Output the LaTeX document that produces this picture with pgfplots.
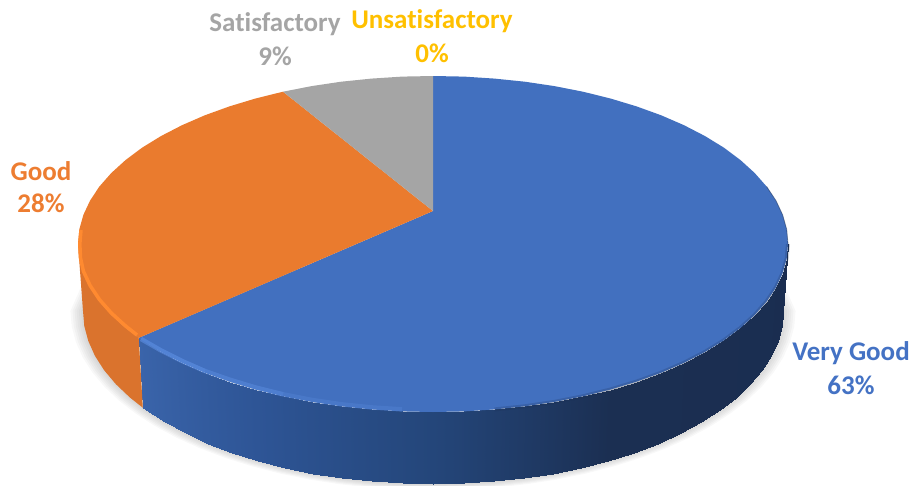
\documentclass[border=0pt]{standalone}
\usepackage{pgfplots}
\usepackage{pgfplotstable}
\usepackage{fontspec}
\setmainfont[Ligatures=NoCommon]{Carlito}
\pgfplotsset{compat=1.18}
\definecolor{cBlue}{HTML}{4270BF}
\definecolor{cBlueT}{HTML}{4472C4}
\definecolor{cOrange}{HTML}{ED7D31}
\definecolor{cOrangeT}{HTML}{EA7B2E}
\definecolor{cGray}{HTML}{A5A5A5}
\definecolor{cGold}{HTML}{FFC000}
% outline of the pie's lower rim, in picture pixels
\pgfplotstableread{
x y
765 270
783 311
781.7 326.1
777.7 341
771.1 355.8
761.9 370.2
750.2 384.1
736.1 397.5
719.7 410.2
701.1 422.2
680.5 433.3
658 443.5
633.8 452.7
608 460.8
580.9 467.8
552.7 473.6
523.6 478.1
493.8 481.4
463.5 483.3
433 484
402.5 483.3
372.2 481.4
342.4 478.1
313.3 473.6
285.1 467.8
258 460.8
232.2 452.7
208 443.5
185.5 433.3
164.9 422.2
146.3 410.2
129.9 397.5
115.8 384.1
104.1 370.2
94.9 355.8
88.3 341
84.3 326.1
83 311
101 270
}\rimtable
% side wall of the blue slice: upper rim then lower rim; c = colour position
\pgfplotstableread{
x y c
788 244 0
786.7 258.6 5
782.6 273.2 10
775.9 287.5 15
766.6 301.5 20
754.7 315 25
740.4 328 30
723.8 340.4 35
704.9 352 40
684 362.8 45
661.2 372.7 50
636.6 381.6 55
610.5 389.5 60
583 396.3 65
554.4 401.9 70
524.9 406.3 75
494.6 409.4 80
464 411.4 85
433 412 90
402 411.4 95
371.4 409.4 100
341.1 406.3 105
311.6 401.9 110
283 396.3 115
255.5 389.5 120
229.4 381.6 125
204.8 372.7 130
182 362.8 135
161.1 352 140
142.2 340.4 145
138.7 337.9 146
783 311 0
781.7 326.1 5
777.7 341 10
771.1 355.8 15
761.9 370.2 20
750.2 384.1 25
736.1 397.5 30
719.7 410.2 35
701.1 422.2 40
680.5 433.3 45
658 443.5 50
633.8 452.7 55
608 460.8 60
580.9 467.8 65
552.7 473.6 70
523.6 478.1 75
493.8 481.4 80
463.5 483.3 85
433 484 90
402.5 483.3 95
372.2 481.4 100
342.4 478.1 105
313.3 473.6 110
285.1 467.8 115
258 460.8 120
232.2 452.7 125
208 443.5 130
185.5 433.3 135
164.9 422.2 140
146.3 410.2 145
142.8 407.7 146
}\bluesidetable
\begin{document}
\begin{tikzpicture}
\path[use as bounding box] (0,0) rectangle (915pt,485pt);
\begin{axis}[
  at={(0,0)}, anchor=south west,
  scale only axis, width=915pt, height=485pt,
  xmin=0, xmax=915, ymin=0, ymax=485, y dir=reverse,
  hide axis,
  colormap={sidemap}{
    rgb255(0)=(26,45,80)
    rgb255(60)=(27,47,82)
    rgb255(90)=(36,70,122)
    rgb255(120)=(46,85,150)
    rgb255(146)=(58,100,170)},
  point meta min=0, point meta max=146,
]
% soft shadow
\pgfplotsinvokeforeach{1.006,1.012,1.018,1.024,1.030,1.036}{
  \addplot[fill=black, draw=none, opacity=0.028] table[
    x expr={433+(\thisrow{x}-433)*#1},
    y expr={311+(\thisrow{y}-311)*#1}] {\rimtable} -- cycle;
}
% side walls
\addplot[surf, shader=interp, mesh/rows=2, point meta=explicit] table[meta=c] {\bluesidetable};
\addplot[fill=cOrange!92!black, draw=none] coordinates {
 (138.7,337.9)(125.6,328)(111.3,315)(99.4,301.5)(90.1,287.5)(83.4,273.2)(79.3,258.6)(78,244)
 (83,311)(84.3,326.1)(88.3,341)(94.9,355.8)(104.1,370.2)(115.8,384.1)(129.9,397.5)(142.8,407.7)} -- cycle;
% top faces
\addplot[fill=cBlue, draw=none] coordinates {
 (433,211)(433,76)(464,76.6)(494.6,78.6)(524.9,81.7)(554.4,86.1)(583,91.7)(610.5,98.5)(636.6,106.4)
 (661.2,115.3)(684,125.2)(704.9,136)(723.8,147.6)(740.4,160)(754.7,173)(766.6,186.5)(775.9,200.5)
 (782.6,214.8)(786.7,229.4)(788,244)(786.7,258.6)(782.6,273.2)(775.9,287.5)(766.6,301.5)(754.7,315)
 (740.4,328)(723.8,340.4)(704.9,352)(684,362.8)(661.2,372.7)(636.6,381.6)(610.5,389.5)(583,396.3)
 (554.4,401.9)(524.9,406.3)(494.6,409.4)(464,411.4)(433,412)(402,411.4)(371.4,409.4)(341.1,406.3)
 (311.6,401.9)(283,396.3)(255.5,389.5)(229.4,381.6)(204.8,372.7)(182,362.8)(161.1,352)(142.2,340.4)(138.7,337.9)} -- cycle;
\addplot[fill=cOrangeT, draw=none] coordinates {
 (433,211)(138.7,337.9)(125.6,328)(111.3,315)(99.4,301.5)(90.1,287.5)(83.4,273.2)(79.3,258.6)(78,244)
 (79.3,229.4)(83.4,214.8)(90.1,200.5)(99.4,186.5)(111.3,173)(125.6,160)(142.2,147.6)(161.1,136)
 (182,125.2)(204.8,115.3)(229.4,106.4)(255.5,98.5)(283,91.7)} -- cycle;
\addplot[fill=cGray, draw=none] coordinates {
 (433,211)(283,91.7)(311.6,86.1)(341.1,81.7)(371.4,78.6)(402,76.6)(433,76)} -- cycle;
% bevel of the rim
\addplot[color={rgb,255:red,255;green,138;blue,48}, line width=3.5pt] coordinates {
 (137,335)(125.6,326)(111.3,313)(99.4,299.5)(90.1,285.5)(83.4,271.2)(80.5,258)(79.8,244)(81,230)};
\addplot[color={rgb,255:red,100;green,150;blue,235}, line width=4.5pt, opacity=0.22] coordinates {
 (141,339)(161.1,350.5)(182,361)(204.8,371)(229.4,379.6)(255.5,387.5)(283,394.3)(311.6,399.9)(341.1,404.3)(371.4,407.4)(402,409.4)};
\addplot[color={rgb,255:red,100;green,150;blue,235}, line width=4.5pt, opacity=0.22] coordinates {
 (141,339)(161.1,350.5)(182,361)(204.8,371)(229.4,379.6)(255.5,387.5)(283,394.3)};
\addplot[color={rgb,255:red,100;green,150;blue,235}, line width=4.5pt, opacity=0.22] coordinates {
 (141,339)(161.1,350.5)(182,361)(204.8,371)};
\addplot[color={rgb,255:red,27;green,47;blue,82}, line width=4pt, opacity=0.22] coordinates {
 (788,244)(786.7,258.6)(782.6,273.2)(775.9,287.5)(766.6,301.5)(754.7,315)(740.4,328)(723.8,340.4)(704.9,352)(684,362.8)(661.2,372.7)(636.6,381.6)(610.5,389.5)(583,396.3)(554.4,401.9)(524.9,406.3)(494.6,409.4)};
\addplot[color={rgb,255:red,27;green,47;blue,82}, line width=0.8pt, opacity=0.5] coordinates {
 (766.6,186.5)(775.9,200.5)(782.6,214.8)(786.7,229.4)(788,244)};
% labels
\node[text=cBlueT, font=\fontsize{27}{30}\selectfont\bfseries, anchor=center] at (axis cs:851,353) {Very Good};
\node[text=cBlueT, font=\fontsize{27}{30}\selectfont\bfseries, anchor=center] at (axis cs:851,385) {63\%};
\node[text=cOrange, font=\fontsize{27}{30}\selectfont\bfseries, anchor=center] at (axis cs:41,171) {Good};
\node[text=cOrange, font=\fontsize{27}{30}\selectfont\bfseries, anchor=center] at (axis cs:41,203) {28\%};
\node[text=cGray, font=\fontsize{27}{30}\selectfont\bfseries, anchor=center] at (axis cs:275,24) {Satisfactory};
\node[text=cGray, font=\fontsize{27}{30}\selectfont\bfseries, anchor=center] at (axis cs:275,56) {9\%};
\node[text=cGold, font=\fontsize{27}{30}\selectfont\bfseries, anchor=center] at (axis cs:432,21) {Unsatisfactory};
\node[text=cGold, font=\fontsize{27}{30}\selectfont\bfseries, anchor=center] at (axis cs:432,53) {0\%};
\end{axis}
\end{tikzpicture}
\end{document}
